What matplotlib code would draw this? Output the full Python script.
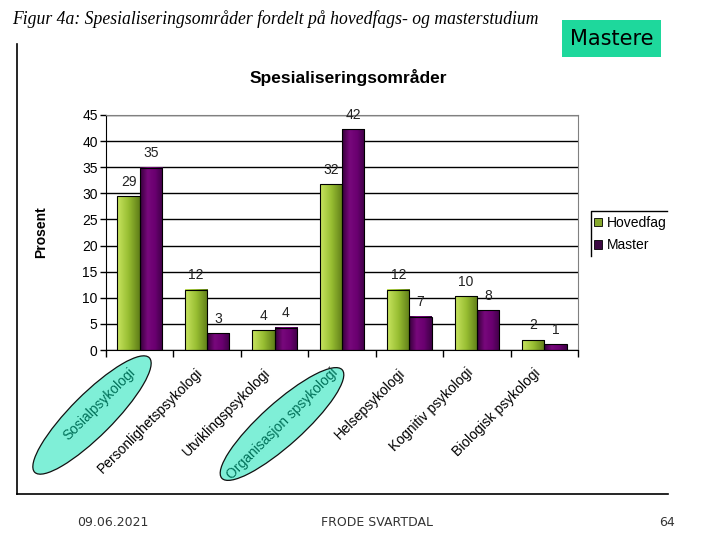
import numpy as np
import matplotlib
matplotlib.use("Agg")
import matplotlib.pyplot as plt
import matplotlib.transforms as mtransforms
from matplotlib.colors import LinearSegmentedColormap
from matplotlib.patches import Ellipse, Patch, Rectangle

plt.rcParams['font.family'] = ['Liberation Sans', 'DejaVu Sans']

# ---- data ----
omrader = ['Sosialpsykologi', 'Personlighetspsykologi', 'Utviklingspsykologi',
           'Organisasjon spsykologi', 'Helsepsykologi', 'Kognitiv psykologi',
           'Biologisk psykologi']
hovedfag = [29.4, 11.5, 3.8, 31.7, 11.5, 10.3, 1.9]
master = [34.9, 3.2, 4.3, 42.3, 6.4, 7.6, 1.1]
hovedfag_lbl = ['29', '12', '4', '32', '12', '10', '2']
master_lbl = ['35', '3', '4', '42', '7', '8', '1']
serier = ['Hovedfag', 'Master']
yticks = np.arange(0, 50, 5)

fig = plt.figure(figsize=(7.2, 5.4), dpi=100)

# ------------------------------------------------------------
#  bar chart (the pasted Excel chart)
# ------------------------------------------------------------
ax = fig.add_axes([106 / 720, 1 - 350 / 540, 472 / 720, 235 / 540])
x = np.arange(len(omrader))
w = 0.33

cm_green = LinearSegmentedColormap.from_list('g', ['#c8e460', '#98be32', '#5f7d18'])
cm_purple = LinearSegmentedColormap.from_list('p', ['#36003a', '#78087c', '#6a0070', '#3e0046'])
grad = np.linspace(0, 1, 64).reshape(1, -1)

for vals, lbls, off, cm in [(hovedfag, hovedfag_lbl, -w / 2, cm_green),
                            (master, master_lbl, w / 2, cm_purple)]:
    bars = ax.bar(x + off, vals, w, facecolor='none', edgecolor='black', lw=0.8, zorder=3)
    for rect, lbl in zip(bars, lbls):
        x0, bw, h = rect.get_x(), rect.get_width(), rect.get_height()
        ax.imshow(grad, extent=(x0, x0 + bw, 0, h), cmap=cm, aspect='auto',
                  zorder=2.5, interpolation='bilinear')
        ax.annotate(lbl, (x0 + bw / 2, h), xytext=(0, 10.5), textcoords='offset points',
                    ha='center', va='center', fontsize=10, color='#222222')

ax.set_xlim(-0.5, len(omrader) - 0.5)
ax.set_ylim(0, 45)
ax.set_yticks(yticks)
ax.yaxis.grid(True, color='black', lw=1)
ax.set_axisbelow(True)
ax.set_xticks(np.arange(-0.5, len(omrader)))
ax.set_xticklabels([])
ax.set_xticks(x, minor=True)
ax.set_xticklabels(omrader, minor=True, rotation=45, ha='right',
                   rotation_mode='anchor', fontsize=10)
ax.tick_params(axis='x', which='minor', length=0, pad=9)
ax.tick_params(axis='x', which='major', length=5, width=1, direction='out')
ax.tick_params(axis='y', length=4, width=1, labelsize=10, pad=2)
for s in ['top', 'right']:
    ax.spines[s].set_color('#808080')

# Excel puts the rotated labels a bit further left than matplotlib does
shift = mtransforms.ScaledTranslation(-0.11, -0.03, fig.dpi_scale_trans)
for lab in ax.get_xticklabels(minor=True):
    lab.set_transform(lab.get_transform() + shift)

handles = [Patch(facecolor='#86a82c', edgecolor='black', lw=0.6),
           Patch(facecolor='#3c0842', edgecolor='black', lw=0.6)]
fig.legend(handles, serier, loc='upper left', bbox_to_anchor=(590 / 720, 1 - 212 / 540),
           frameon=False, fontsize=10, handlelength=0.55, handleheight=0.55,
           handletextpad=0.4, labelspacing=0.6, borderaxespad=0, borderpad=0.3)

# ------------------------------------------------------------
#  slide overlay in pixel coordinates
# ------------------------------------------------------------
ov = fig.add_axes([0, 0, 1, 1], zorder=10)
ov.set_xlim(0, 720)
ov.set_ylim(540, 0)
ov.set_autoscale_on(False)
ov.axis('off')
ov.patch.set_alpha(0)

ov.text(12, 19, 'Figur 4a: Spesialiseringsområder fordelt på hovedfags- og masterstudium',
        family='Liberation Serif', style='italic', fontsize=12.7, ha='left', va='center')
ov.add_patch(Rectangle((562, 20), 99, 37, facecolor='#1ed89c', edgecolor='none'))
ov.text(611.5, 39, 'Mastere', family='DejaVu Sans', fontsize=15, ha='center', va='center')

ov.text(348, 77, 'Spesialiseringsområder', fontsize=12.5, fontweight='bold',
        ha='center', va='center')
ov.text(41, 232, 'Prosent', fontsize=10, fontweight='bold', rotation=90,
        ha='center', va='center')

# chart frame (left + bottom edge) and clipped legend frame
ov.plot([17, 17], [44, 494], color='black', lw=1.2)
ov.plot([17, 668], [494, 494], color='black', lw=1.2)
ov.plot([591, 591, 667], [256, 211, 211], color='black', lw=1)

# highlight ellipses
for cx, cy, ang in [(92, 415, -45), (282, 424, -42)]:
    ov.add_patch(Ellipse((cx, cy), 162, 42, angle=ang, facecolor='#00e0b0',
                         alpha=0.5, edgecolor='none'))
    ov.add_patch(Ellipse((cx, cy), 162, 42, angle=ang, fill=False,
                         edgecolor='#111111', lw=0.9))

# footer
ov.text(113, 523, '09.06.2021', family='DejaVu Sans', fontsize=9, color='#333333',
        ha='center', va='center')
ov.text(377, 523, 'FRODE SVARTDAL', family='DejaVu Sans', fontsize=9, color='#333333',
        ha='center', va='center')
ov.text(675, 523, '64', family='DejaVu Sans', fontsize=9, color='#333333',
        ha='right', va='center')

fig.savefig('out.png', dpi=100)
